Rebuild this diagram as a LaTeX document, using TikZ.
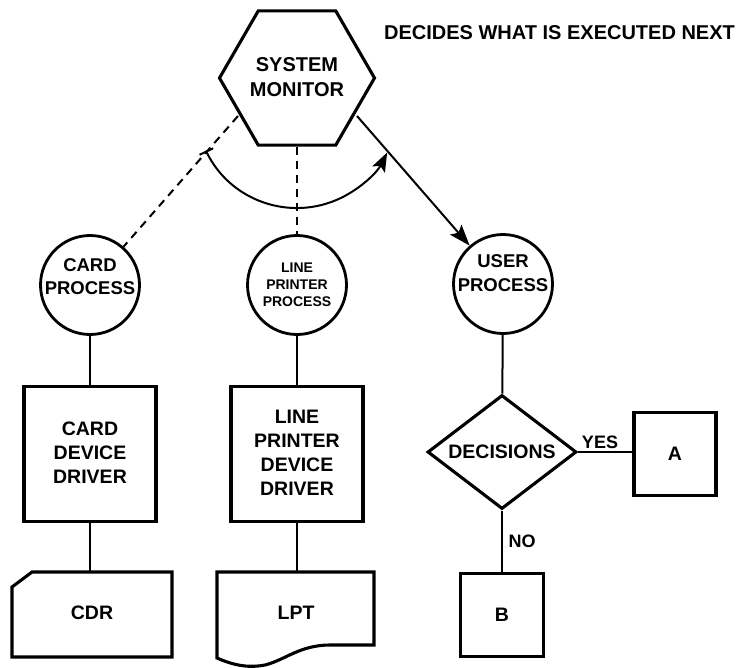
\documentclass[tikz,border=0pt]{standalone}
\usepackage{fontspec}
\setmainfont{Liberation Sans}
\usetikzlibrary{shapes.geometric,arrows.meta}
\newcommand\myfs[2]{\fontsize{#1}{#2}\selectfont\bfseries}
\begin{document}
\begin{tikzpicture}[x=1pt,y=-1pt,
  txt/.style={inner sep=0pt, align=center},
  proc/.style={circle, draw, line width=2.8pt, minimum size=99pt, inner sep=0pt},
  boxn/.style={rectangle, draw, line width=3.1pt, inner sep=0pt},
  conn/.style={line width=2pt},
  dsh/.style={line width=2pt, dash pattern=on 8pt off 6pt},
  shp/.style={line width=3.1pt, line join=miter},
  tipS/.style={-{Stealth[length=21pt,width=15pt,inset=4pt]}}]
\useasboundingbox (0,0) rectangle (742,667);
\fill[white] (0,0) rectangle (742,667);

% system monitor
\node[regular polygon, regular polygon sides=6, draw, line width=3.1pt,
      minimum size=155pt, inner sep=0pt] (hex) at (297,78) {};
\node[txt, font=\myfs{20}{25}] (hext) at (297,77.5) {SYSTEM\\MONITOR};
\node[txt, font=\myfs{20}{24}] (title) at (559.5,33) {DECIDES WHAT IS EXECUTED NEXT};

% processes
\node[proc] (cardp) at (90,285) {};
\node[txt, font=\myfs{18.5}{23}] (cardpt) at (90,276.5) {CARD\\PROCESS};
\node[proc] (lpp) at (297,285) {};
\node[txt, font=\myfs{14}{17}] (lppt) at (297,285) {LINE\\PRINTER\\PROCESS};
\node[proc] (userp) at (503,284) {};
\node[txt, font=\myfs{18.5}{24}] (userpt) at (503,273) {USER\\PROCESS};

% drivers
\node[boxn, minimum width=132pt, minimum height=135pt] (cardd) at (90,454) {};
\node[txt, font=\myfs{19.5}{24}] (carddt) at (90,453) {CARD\\DEVICE\\DRIVER};
\node[boxn, minimum width=132pt, minimum height=135pt] (lpd) at (297,454) {};
\node[txt, font=\myfs{19.5}{24}] (lpdt) at (297,453) {LINE\\PRINTER\\DEVICE\\DRIVER};

% devices
\draw[shp] (32,572) -- (172,572) -- (172,657) -- (12,657) -- (12,587) -- cycle;
\node[txt, font=\myfs{19.5}{24}] (cdr) at (92,613) {CDR};
\coordinate (cdrtop) at (90,572);
\draw[shp] (217,572) -- (374,572) -- (374,645) -- (330,645)
  .. controls (300,645) and (285,660) .. (265,665)
  .. controls (250,668) and (235,666) .. (217,658) -- cycle;
\node[txt, font=\myfs{19.5}{24}] (lpt) at (296,613) {LPT};
\coordinate (lpttop) at (297,572);

% user side
\node[diamond, draw, line width=3.1pt, aspect=1.3, inner sep=0pt,
      minimum width=149pt, minimum height=114pt, font=\myfs{19.5}{24}] (dec) at (502,452) {DECISIONS};
\node[boxn, minimum width=82pt, minimum height=83pt, font=\myfs{19.5}{24}] (A) at (675,454) {A};
\node[boxn, minimum width=83pt, minimum height=83pt, font=\myfs{19.5}{24}] (B) at (502,615) {B};
\node[txt, font=\myfs{18}{22}] (yes) at (600,442) {YES};
\node[txt, font=\myfs{18}{22}] (no) at (522,541) {NO};

% connectors
\coordinate (hL) at (238,116);
\coordinate (hR) at (357,116);
\draw[dsh] (hL) -- (cardp);
\draw[dsh] (hex) -- (lpp);
\draw[conn, tipS] (hR) -- (userp);
\draw[conn, {Bar[width=15pt]}-{Stealth[length=19pt,width=14pt,inset=4pt]}]
  (297,107) ++(154.4:101) arc[start angle=154.4, end angle=26.8, radius=101];

\draw[conn] (cardp) -- (cardd);
\draw[conn] (cardd) -- (cdrtop);
\draw[conn] (lpp) -- (lpd);
\draw[conn] (lpd) -- (lpttop);
\draw[conn] (userp) -- (dec);
\draw[conn] (dec.east) -- (dec.east -| A.west);
\draw[conn] (dec) -- (B);
\end{tikzpicture}
\end{document}
